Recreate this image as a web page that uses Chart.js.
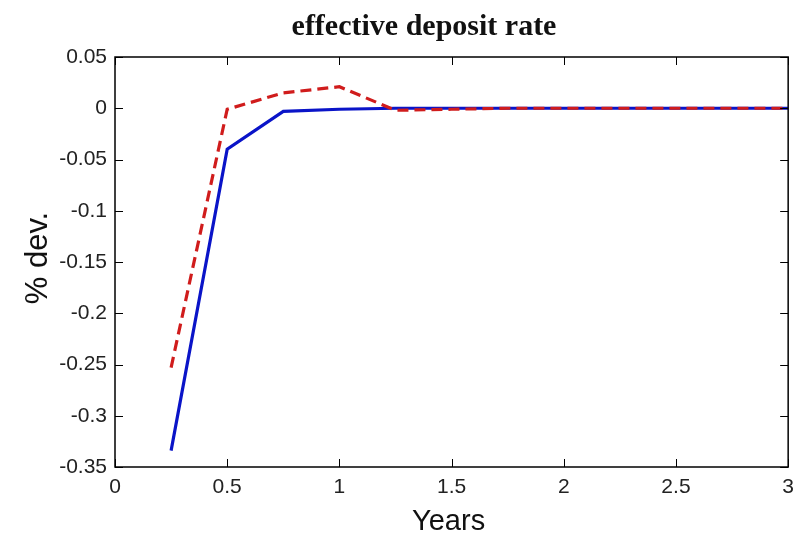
<!DOCTYPE html>
<html>
<head>
<meta charset="utf-8">
<script src="https://cdn.jsdelivr.net/npm/chart.js@4/dist/chart.umd.min.js"></script>
<style>
  html, body { margin: 0; padding: 0; background: #fff; }
  #wrap { width: 802px; height: 536px; }
</style>
</head>
<body>
<div id="wrap"><canvas id="chart" width="802" height="536"></canvas></div>
<script>
// --- data ---
const titleText = 'effective deposit rate';
const xTitle = 'Years';
const yTitle = '% dev.';

const years = [0.25, 0.5, 0.75, 1, 1.25, 1.5, 1.75, 2, 2.25, 2.5, 2.75, 3];
const blueSeries = [-0.334, -0.040, -0.003, -0.001, 0, 0, 0, 0, 0, 0, 0, 0];
const redSeries = [-0.253, -0.001, 0.015, 0.021, -0.002, -0.001, 0, 0, 0, 0, 0, 0];

const xTickValues = [0, 0.5, 1, 1.5, 2, 2.5, 3];
const xTickLabels = ['0', '0.5', '1', '1.5', '2', '2.5', '3'];
const yTickValues = [0.05, 0, -0.05, -0.1, -0.15, -0.2, -0.25, -0.3, -0.35];
const yTickLabels = ['0.05', '0', '-0.05', '-0.1', '-0.15', '-0.2', '-0.25', '-0.3', '-0.35'];

const toPoints = (ys) => years.map((x, i) => ({ x, y: ys[i] }));

// box + inward ticks on all four sides, plus title and axis names (MATLAB look)
const matlabFrame = {
    id: 'matlabFrame',
    afterDraw(chart) {
        const { ctx, chartArea: a, scales } = chart;
        const tl = 8;
        ctx.save();
        ctx.strokeStyle = '#000';
        ctx.lineWidth = 1.5;
        ctx.strokeRect(a.left, a.top, a.right - a.left, a.bottom - a.top);
        ctx.lineWidth = 1;
        ctx.beginPath();
        xTickValues.forEach(v => {
            const px = Math.round(scales.x.getPixelForValue(v)) + 0.5;
            ctx.moveTo(px, a.bottom); ctx.lineTo(px, a.bottom - tl);
            ctx.moveTo(px, a.top); ctx.lineTo(px, a.top + tl);
        });
        yTickValues.forEach(v => {
            const py = Math.round(scales.y.getPixelForValue(v)) + 0.5;
            ctx.moveTo(a.left, py); ctx.lineTo(a.left + tl, py);
            ctx.moveTo(a.right, py); ctx.lineTo(a.right - tl, py);
        });
        ctx.stroke();

        // title
        ctx.fillStyle = '#111';
        ctx.font = 'bold 30px "Liberation Serif", "Times New Roman", serif';
        ctx.textAlign = 'center';
        ctx.textBaseline = 'alphabetic';
        ctx.fillText(titleText, 424, 35);

        // axis names
        ctx.font = '29px "Liberation Sans", Arial, sans-serif';
        ctx.fillText(xTitle, (a.left + a.right) / 2 - 3, 530);
        ctx.font = '31px "Liberation Sans", Arial, sans-serif';
        ctx.translate(38, (a.top + a.bottom) / 2 - 4);
        ctx.rotate(-Math.PI / 2);
        ctx.textBaseline = 'middle';
        ctx.fillText(yTitle, 0, 0);
        ctx.restore();
    }
};

const tickFont = { family: '"Liberation Sans", Arial, sans-serif', size: 21 };

new Chart(document.getElementById('chart').getContext('2d'), {
    type: 'line',
    data: {
        datasets: [
            {
                label: 'dashed',
                data: toPoints(redSeries),
                borderColor: '#d01c1c',
                borderWidth: 3.2,
                borderDash: [11, 6],
                pointRadius: 0,
                tension: 0,
                order: 0
            },
            {
                label: 'solid',
                data: toPoints(blueSeries),
                borderColor: '#0a14c8',
                borderWidth: 3.2,
                pointRadius: 0,
                tension: 0,
                order: 1
            }
        ]
    },
    options: {
        responsive: false,
        animation: false,
        layout: { padding: { top: 57, right: 6, left: 0, bottom: 0 } },
        plugins: {
            legend: { display: false },
            tooltip: { enabled: false },
            title: { display: false }
        },
        scales: {
            x: {
                type: 'linear',
                min: 0, max: 3,
                grid: { display: false, drawTicks: false },
                border: { display: false },
                afterFit: (s) => { s.height = 69; },
                afterBuildTicks: (s) => { s.ticks = xTickValues.map(v => ({ value: v })); },
                ticks: {
                    autoSkip: false, maxRotation: 0, padding: 8,
                    color: '#222', font: tickFont,
                    callback: (v) => xTickLabels[xTickValues.indexOf(v)]
                }
            },
            y: {
                type: 'linear',
                min: -0.35, max: 0.05,
                grid: { display: false, drawTicks: false },
                border: { display: false },
                afterFit: (s) => { s.width = 115; },
                afterBuildTicks: (s) => { s.ticks = yTickValues.map(v => ({ value: v })); },
                ticks: {
                    autoSkip: false, padding: 8,
                    color: '#222', font: tickFont,
                    callback: (v) => yTickLabels[yTickValues.indexOf(v)]
                }
            }
        }
    },
    plugins: [matlabFrame]
});
</script>
</body>
</html>
